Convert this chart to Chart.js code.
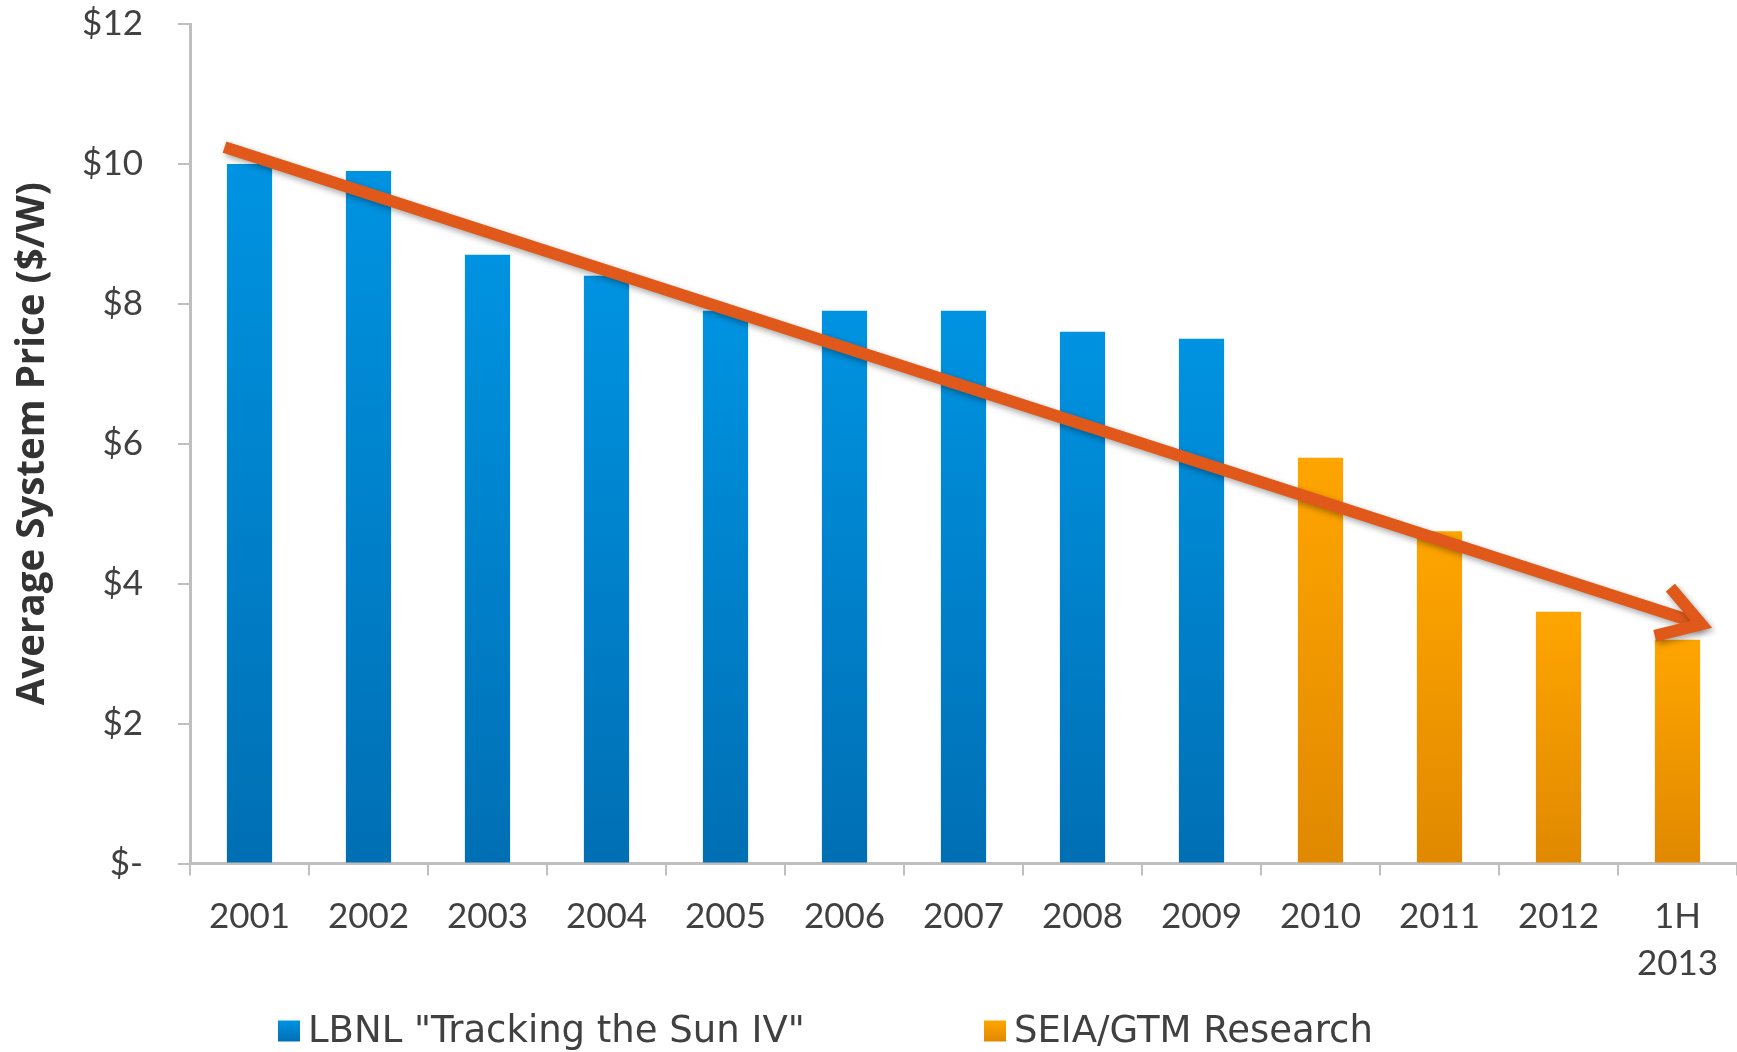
<!DOCTYPE html>
<html><head><meta charset="utf-8">
<script src="https://cdn.jsdelivr.net/npm/chart.js@4.4.1/dist/chart.umd.min.js"></script>
<style>html,body{margin:0;padding:0;background:#fff;overflow:hidden}#wrap{width:1737px;height:1052px;position:relative}</style>
</head><body><div id="wrap"><canvas id="c" width="1737" height="1052"></canvas></div>
<script>
// ---- data ----
const categories = ['2001','2002','2003','2004','2005','2006','2007','2008','2009','2010','2011','2012',['1H','2013']];
const lbnlValues = [10.0, 9.9, 8.7, 8.4, 7.9, 7.9, 7.9, 7.6, 7.5, null, null, null, null];
const seiaValues = [null, null, null, null, null, null, null, null, null, 5.8, 4.75, 3.6, 3.2];
const trendX = [-0.21, 12.2];
const trendY = [10.24, 3.42];
const yTickValues = [0, 2, 4, 6, 8, 10, 12];
const seriesNames = ['LBNL "Tracking the Sun IV"', 'SEIA/GTM Research'];
const yAxisTitle = 'Average System Price ($/W)';

// ---- styles ----
const BLUE = ['#0093E1', '#006FB4'];
const ORANGE = ['#FFA500', '#E08900'];
const ARROW = '#E0591B';
const TEXT = '#404040';
const AXIS = '#BFBFBF';
const FONT = 'Lato, "Open Sans", sans-serif';
const LEGEND_FONT = '"DejaVu Sans", sans-serif';

function barFill(colors) {
  return (c) => {
    const chart = c.chart, area = chart.chartArea;
    if (!area || c.raw == null) return colors[0];
    const yTop = chart.scales.y.getPixelForValue(c.raw);
    const g = chart.ctx.createLinearGradient(0, yTop, 0, area.bottom);
    g.addColorStop(0, colors[0]);
    g.addColorStop(1, colors[1]);
    return g;
  };
}

const arrowPlugin = {
  id: 'arrowPlugin',
  beforeDatasetDraw(chart, args) {
    if (chart.data.datasets[args.index].isArrow) {
      const ctx = chart.ctx;
      ctx.save();
      ctx.shadowColor = 'rgba(0,0,0,0.35)';
      ctx.shadowBlur = 6;
      ctx.shadowOffsetX = 2;
      ctx.shadowOffsetY = 3;
    }
  },
  afterDatasetDraw(chart, args) {
    const ds = chart.data.datasets[args.index];
    if (!ds.isArrow) return;
    const ctx = chart.ctx;
    const pts = args.meta.data;
    const p0 = pts[0], p1 = pts[pts.length - 1];
    const ang = Math.atan2(p1.y - p0.y, p1.x - p0.x);
    const len = 48, spread = Math.PI / 180 * 32;
    ctx.beginPath();
    ctx.moveTo(p1.x - len * Math.cos(ang - spread), p1.y - len * Math.sin(ang - spread));
    ctx.lineTo(p1.x, p1.y);
    ctx.lineTo(p1.x - len * Math.cos(ang + spread), p1.y - len * Math.sin(ang + spread));
    ctx.strokeStyle = ds.borderColor;
    ctx.lineWidth = ds.borderWidth;
    ctx.lineJoin = 'miter';
    ctx.lineCap = 'butt';
    ctx.stroke();
    ctx.restore();
  }
};

const legendPlugin = {
  id: 'customLegend',
  afterDraw(chart) {
    const ctx = chart.ctx;
    const xs = [278, 984];
    const yc = 1031;
    const bw = 22, bh = 21;
    ctx.save();
    ctx.font = '37px ' + LEGEND_FONT;
    ctx.textBaseline = 'middle';
    chart.data.datasets.filter(d => !d.isArrow).forEach((d, i) => {
      const cols = d.gradColors;
      const g = ctx.createLinearGradient(0, yc - bh / 2, 0, yc + bh / 2);
      g.addColorStop(0, cols[0]); g.addColorStop(1, cols[1]);
      ctx.fillStyle = g;
      ctx.fillRect(xs[i], yc - bh / 2, bw, bh);
      ctx.fillStyle = TEXT;
      ctx.textAlign = 'left';
      ctx.fillText(d.label, xs[i] + bw + 8, yc + 1);
    });
    ctx.restore();
  }
};

new Chart(document.getElementById('c'), {
  type: 'bar',
  data: {
    labels: categories,
    datasets: [
      { label: seriesNames[0], data: lbnlValues, backgroundColor: barFill(BLUE), gradColors: BLUE,
        barPercentage: 0.38, categoryPercentage: 1, grouped: false, order: 2 },
      { label: seriesNames[1], data: seiaValues, backgroundColor: barFill(ORANGE), gradColors: ORANGE,
        barPercentage: 0.38, categoryPercentage: 1, grouped: false, order: 2 },
      { type: 'line', label: 'trend', isArrow: true, xAxisID: 'xa',
        data: trendX.map((x, i) => ({ x, y: trendY[i] })),
        borderColor: ARROW, borderWidth: 12, pointRadius: 0, tension: 0, order: 0, borderCapStyle: 'butt' }
    ]
  },
  options: {
    responsive: false,
    animation: false,
    devicePixelRatio: 1,
    layout: { padding: { top: 24, right: 0, bottom: 0, left: 0 } },
    plugins: { legend: { display: false }, tooltip: { enabled: false }, title: { display: false } },
    scales: {
      x: {
        type: 'category',
        offset: true,
        grid: { display: true, drawOnChartArea: false, offset: true, tickLength: 12, color: AXIS, lineWidth: 2 },
        border: { display: true, color: AXIS, width: 3 },
        ticks: { color: TEXT, font: { family: FONT, size: 35, lineHeight: 1.33 }, padding: 18, maxRotation: 0, autoSkip: false },
        afterFit(s) { s.height = 188.5; }
      },
      xa: { type: 'linear', display: false, min: -0.5, max: 12.5, offset: false, grid: { offset: false } },
      y: {
        min: 0, max: 12,
        afterBuildTicks(s) { s.ticks = yTickValues.map(v => ({ value: v })); },
        grid: { display: true, drawOnChartArea: false, tickLength: 12, color: AXIS, lineWidth: 2 },
        border: { display: true, color: AXIS, width: 3 },
        ticks: { color: TEXT, font: { family: FONT, size: 35 }, padding: 35,
          callback: (v) => v === 0 ? '$-' : '$' + v },
        title: { display: true, text: yAxisTitle, color: '#333333',
          font: { family: '"Open Sans", sans-serif', size: 38.5, weight: 'bold', lineHeight: 1.2 }, padding: { top: 10, bottom: 0 } },
        afterFit(s) { s.width = 190; s.paddingTop = 0; s.paddingBottom = 0; }
      }
    }
  },
  plugins: [arrowPlugin, legendPlugin]
});
</script>
</body></html>
